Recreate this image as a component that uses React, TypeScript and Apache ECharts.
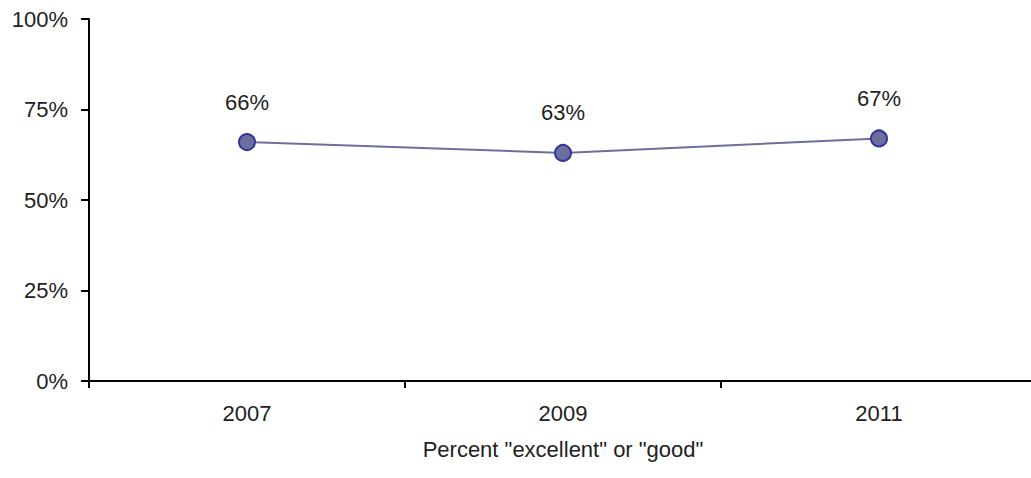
import React, { useEffect, useRef } from "react";
import * as echarts from "echarts";

const categories = ["2007", "2009", "2011"];
const values = [66, 63, 67];
const yTicks = [0, 25, 50, 75, 100];
const axisTitle = 'Percent "excellent" or "good"';

const FONT = "'Liberation Sans', Arial, sans-serif";
const FS = 22;

export default function App() {
  const ref = useRef<HTMLDivElement>(null);
  useEffect(() => {
    if (!ref.current) return;
    const chart = echarts.init(ref.current, null, { renderer: "svg" });
    chart.setOption({
      animation: false,
      backgroundColor: "#ffffff",
      textStyle: { fontFamily: FONT },
      grid: { left: 89, right: 0, top: 19, bottom: 97, containLabel: false },
      xAxis: {
        type: "category",
        data: categories,
        boundaryGap: true,
        name: axisTitle,
        nameLocation: "middle",
        nameGap: 57,
        nameTextStyle: { fontSize: FS, color: "#222", fontFamily: FONT },
        axisLine: { lineStyle: { color: "#000", width: 2 } },
        axisTick: { show: true, inside: false, length: 7, lineStyle: { color: "#000", width: 2 } },
        axisLabel: { fontSize: FS, color: "#222", margin: 21, fontFamily: FONT },
        splitLine: { show: false },
      },
      yAxis: {
        type: "value",
        min: yTicks[0],
        max: yTicks[yTicks.length - 1],
        interval: 25,
        axisLine: { show: true, lineStyle: { color: "#000", width: 2 } },
        axisTick: { show: true, inside: false, length: 8, lineStyle: { color: "#000", width: 2 } },
        axisLabel: { fontSize: FS, color: "#222", margin: 21, formatter: "{value}%", fontFamily: FONT },
        splitLine: { show: false },
      },
      series: [
        {
          type: "line",
          data: values,
          symbol: "circle",
          symbolSize: 16,
          lineStyle: { color: "#6e6e9e", width: 2 },
          itemStyle: { color: "#6d6d9e", borderColor: "#3535a0", borderWidth: 2 },
          label: {
            show: true,
            position: "top",
            distance: 20,
            formatter: "{c}%",
            fontSize: FS,
            color: "#222",
            fontFamily: FONT,
          },
        },
      ],
    });
    return () => chart.dispose();
  }, []);
  return (
    <div
      ref={ref}
      style={{ position: "fixed", left: 0, top: 0, width: 1037, height: 478, background: "#fff" }}
    />
  );
}
